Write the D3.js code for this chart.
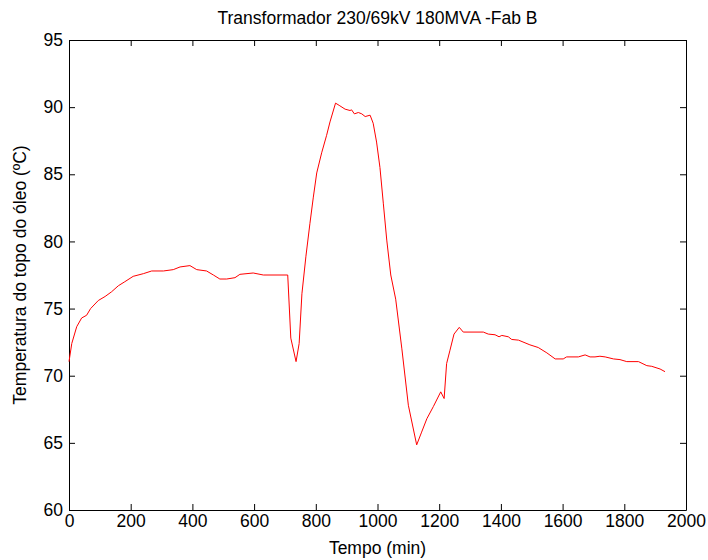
<!DOCTYPE html>
<html>
<head>
<meta charset="utf-8">
<script src="https://cdn.jsdelivr.net/npm/d3@7"></script>
<style>
  body { margin: 0; background: #fff; }
  svg { display: block; font-family: "Liberation Sans", Arial, sans-serif; }
</style>
</head>
<body>
<div id="chart"></div>
<script>
// Top-oil temperature readings
const TIME_MIN = [0, 9, 25, 41, 57, 70, 95, 117, 138, 160, 181, 208, 241, 268, 306, 338, 360, 392, 414, 446,
  468, 489, 511, 538, 554, 597, 630, 709, 719, 736, 746, 755, 768, 781, 792, 803, 819, 835, 846, 864,
  878, 895, 911, 916, 925, 938, 949, 960, 976, 986, 997, 1008, 1019, 1030, 1043, 1059, 1079, 1100, 1127, 1143,
  1160, 1181, 1205, 1216, 1224, 1235, 1248, 1265, 1278, 1343, 1359, 1381, 1394, 1403, 1424, 1435, 1457, 1494, 1521, 1549,
  1576, 1602, 1613, 1651, 1673, 1689, 1705, 1721, 1738, 1765, 1786, 1808, 1846, 1873, 1889, 1916, 1932];
const TEMP_C = [71.05, 72.4, 73.65, 74.3, 74.5, 75.0, 75.6, 75.9, 76.25, 76.7, 77.0, 77.4, 77.6, 77.8, 77.8, 77.9, 78.1, 78.2, 77.9, 77.8,
  77.5, 77.2, 77.2, 77.3, 77.55, 77.65, 77.5, 77.5, 72.8, 71.05, 72.4, 76.1, 78.9, 81.35, 83.3, 85.1, 86.6, 87.9, 88.9, 90.3,
  90.1, 89.85, 89.75, 89.8, 89.5, 89.6, 89.5, 89.3, 89.4, 88.8, 87.4, 85.5, 82.8, 80.1, 77.5, 75.7, 72.0, 67.8, 64.85, 65.8,
  66.8, 67.7, 68.8, 68.3, 70.9, 71.9, 73.1, 73.6, 73.25, 73.25, 73.1, 73.05, 72.9, 73.0, 72.9, 72.7, 72.65, 72.3, 72.1, 71.7,
  71.25, 71.25, 71.4, 71.4, 71.55, 71.4, 71.4, 71.45, 71.4, 71.25, 71.2, 71.05, 71.05, 70.75, 70.7, 70.5, 70.3];

const X_TICKS = [0, 200, 400, 600, 800, 1000, 1200, 1400, 1600, 1800, 2000];
const Y_TICKS = [60, 65, 70, 75, 80, 85, 90, 95];

const TITLE = 'Transformador 230/69kV 180MVA -Fab B';
const X_LABEL = 'Tempo (min)';
const Y_LABEL = 'Temperatura do topo do óleo (ºC)';

const W = 708, H = 560;
const MARGIN = { top: 40, right: 22, bottom: 50, left: 69 };
const innerW = W - MARGIN.left - MARGIN.right;
const innerH = H - MARGIN.top - MARGIN.bottom;
const TICK = 6;
const FONT = 17.5;

const svg = d3.select('#chart').append('svg')
  .attr('width', W)
  .attr('height', H);

const g = svg.append('g')
  .attr('transform', `translate(${MARGIN.left},${MARGIN.top})`);

const x = d3.scaleLinear().domain([0, 2000]).range([0, innerW]);
const y = d3.scaleLinear().domain([60, 95]).range([innerH, 0]);

const points = TIME_MIN.map((t, i) => ({ t, v: TEMP_C[i] }));

// MATLAB-style box with inward ticks on all sides
function styleAxis(sel) {
  sel.select('.domain').attr('stroke', '#000').attr('stroke-width', 1);
  sel.selectAll('.tick line').attr('stroke', '#000').attr('stroke-width', 1);
  sel.selectAll('.tick text')
    .attr('fill', '#000')
    .style('font-size', FONT + 'px');
}

g.append('g')
  .attr('transform', `translate(0,${innerH})`)
  .call(d3.axisBottom(x).tickValues(X_TICKS).tickFormat(d3.format('d'))
    .tickSizeInner(-TICK).tickSizeOuter(0).tickPadding(5))
  .call(styleAxis);

g.append('g')
  .call(d3.axisTop(x).tickValues(X_TICKS).tickSizeInner(-TICK).tickSizeOuter(0).tickFormat(''))
  .call(styleAxis);

g.append('g')
  .call(d3.axisLeft(y).tickValues(Y_TICKS).tickSizeInner(-TICK).tickSizeOuter(0).tickPadding(6))
  .call(styleAxis);

g.append('g')
  .attr('transform', `translate(${innerW},0)`)
  .call(d3.axisRight(y).tickValues(Y_TICKS).tickSizeInner(-TICK).tickSizeOuter(0).tickFormat(''))
  .call(styleAxis);

const line = d3.line()
  .x(d => x(d.t))
  .y(d => y(d.v));

g.append('path')
  .datum(points)
  .attr('fill', 'none')
  .attr('stroke', '#ff0000')
  .attr('stroke-width', 1)
  .attr('d', line);

svg.append('text')
  .attr('x', MARGIN.left + innerW / 2)
  .attr('y', 24)
  .attr('text-anchor', 'middle')
  .style('font-size', FONT + 'px')
  .text(TITLE);

svg.append('text')
  .attr('x', MARGIN.left + innerW / 2)
  .attr('y', H - 6)
  .attr('text-anchor', 'middle')
  .style('font-size', FONT + 'px')
  .text(X_LABEL);

svg.append('text')
  .attr('transform', `translate(26,${MARGIN.top + innerH / 2}) rotate(-90)`)
  .attr('text-anchor', 'middle')
  .style('font-size', FONT + 'px')
  .text(Y_LABEL);
</script>
</body>
</html>
